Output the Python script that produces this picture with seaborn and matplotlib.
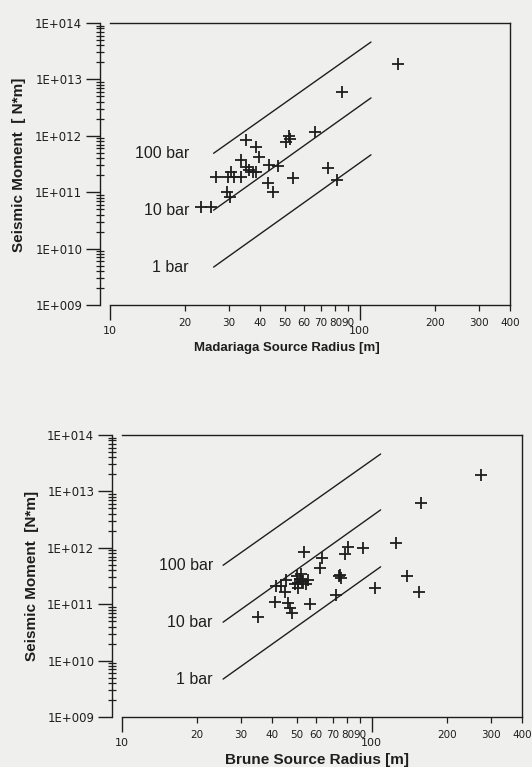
import numpy as np
import pandas as pd
import seaborn as sns
import matplotlib
matplotlib.use("Agg")
import matplotlib.pyplot as plt
from matplotlib.ticker import FixedLocator, FuncFormatter, LogLocator, NullFormatter

# values
madariaga_radius = [142, 84.6, 66.1, 52, 50.8, 52.5, 35.0, 38.5, 39.6, 33.4, 43.5, 47.0,
                    35.0, 36.1, 37.3, 38.5, 31.4, 26.5, 29.7, 33.4, 30.5, 54.1, 74.8,
                    80.8, 42.8, 44.9, 29.5, 30.3, 23.1, 25.3]
madariaga_moment = [1.87e13, 6.05e12, 1.18e12, 1.0e12, 7.9e11, 8.8e11, 8.4e11, 6.4e11, 4.2e11,
                    3.7e11, 3.0e11, 2.95e11, 2.83e11, 2.48e11, 2.31e11, 2.28e11, 1.88e11, 1.84e11,
                    1.85e11, 1.84e11, 2.3e11, 1.76e11, 2.65e11, 1.64e11, 1.44e11, 1.02e11,
                    1.02e11, 8.3e10, 5.5e10, 5.5e10]

brune_radius = [273, 158, 125.6, 92.3, 80.4, 78, 53.5, 63.5, 62.3, 74.5, 75.7, 74, 72.2,
                102.8, 138, 154.6, 56.5, 52.3, 50, 52.4, 54.8, 49.3, 50.7, 45.5, 43.5,
                41.5, 44.9, 41, 46.1, 47, 47.8, 35.1, 51.5, 53, 55.5, 50.5]
brune_moment = [1.95e13, 6.3e12, 1.23e12, 9.8e11, 1.05e12, 7.9e11, 8.5e11, 6.5e11, 4.3e11,
                3.3e11, 2.9e11, 3.1e11, 1.46e11, 1.9e11, 3.1e11, 1.66e11, 1.0e11, 3.5e11,
                3.1e11, 2.5e11, 2.3e11, 2.3e11, 1.9e11, 2.7e11, 2.1e11, 2.1e11, 1.66e11,
                1.1e11, 1.04e11, 8.5e10, 6.9e10, 6.0e10, 2.8e11, 2.6e11, 2.7e11, 2.4e11]

# constant stress drop lines (start / end moment)
stress_labels = ["100 bar", "10 bar", "1 bar"]
stress_start_moment = [4.9e11, 4.8e10, 4.7e9]
stress_end_moment = [4.6e13, 4.7e12, 4.6e11]
madariaga_line_radius = [26, 111]
brune_line_radius = [25.4, 108.6]

sns.set_theme(style="ticks")
plt.rcParams["font.family"] = ["Liberation Sans", "DejaVu Sans"]
ink = "#1e1e1e"
paper = "#efefed"

W, H = 532, 767
fig = plt.figure(figsize=(W / 100, H / 100), dpi=100, facecolor=paper)


def panel(rect, radius, moment, line_radius, label_x, ylabel, xlabel, ylabel_xy, xlabel_xy,
          xlabel_size):
    ax = fig.add_axes(rect)
    ax.set_facecolor(paper)

    lines = pd.DataFrame({
        "radius": [r for _ in stress_labels for r in line_radius],
        "moment": [m for pair in zip(stress_start_moment, stress_end_moment) for m in pair],
        "stress": [s for s in stress_labels for _ in line_radius],
    })
    sns.lineplot(data=lines, x="radius", y="moment", hue="stress", palette=[ink] * 3,
                 estimator=None, sort=False, legend=False, linewidth=1.0, ax=ax)

    pts = pd.DataFrame({"radius": radius, "moment": moment})
    sns.scatterplot(data=pts, x="radius", y="moment", marker="+", color=ink, s=80,
                    linewidth=1.3, ax=ax, zorder=3)

    for lab, m in zip(stress_labels, stress_start_moment):
        ax.text(label_x, m, lab, ha="right", va="center", fontsize=11.5, color=ink)

    ax.set_xscale("log")
    ax.set_yscale("log")
    ax.set_xlim(10, 400)
    ax.set_ylim(1e9, 1e14)
    ax.set_xlabel("")
    ax.set_ylabel("")

    for sp in ax.spines.values():
        sp.set_color(ink)
        sp.set_linewidth(1.0)
    ax.spines["left"].set_position(("outward", 7))

    # y axis: decades with many minor ticks
    ax.yaxis.set_major_locator(LogLocator(base=10, numticks=10))
    ax.yaxis.set_minor_locator(LogLocator(base=10, subs=np.arange(2, 10), numticks=20))
    ax.yaxis.set_major_formatter(FuncFormatter(lambda v, _: f"1E+{int(round(np.log10(v))):03d}"))
    ax.yaxis.set_minor_formatter(NullFormatter())
    ax.tick_params(axis="y", which="major", direction="out", length=10, width=1.0,
                   colors=ink, labelsize=8.5, pad=3)
    ax.tick_params(axis="y", which="minor", direction="inout", length=6, width=0.9, colors=ink)

    # x axis: 10 and 100 as majors, labelled minors in between
    ax.xaxis.set_major_locator(FixedLocator([10, 100]))
    ax.xaxis.set_minor_locator(FixedLocator([20, 30, 40, 50, 60, 70, 80, 90, 200, 300, 400]))
    ax.xaxis.set_major_formatter(FuncFormatter(lambda v, _: f"{v:g}"))
    ax.xaxis.set_minor_formatter(FuncFormatter(lambda v, _: f"{v:g}"))
    ax.tick_params(axis="x", which="major", direction="out", length=11, width=1.0,
                   colors=ink, labelsize=8, pad=4)
    ax.tick_params(axis="x", which="minor", direction="out", length=4, width=0.9,
                   colors=ink, labelsize=7.5, pad=5)
    for t in ax.get_xticklabels() + ax.get_yticklabels() + ax.get_xminorticklabels():
        t.set_family(["DejaVu Sans"])

    fig.text(ylabel_xy[0] / W, 1 - ylabel_xy[1] / H, ylabel, rotation=90, ha="center",
             va="center", fontsize=11, fontweight="bold", color=ink)
    fig.text(xlabel_xy[0] / W, 1 - xlabel_xy[1] / H, xlabel, ha="center",
             va="center", fontsize=xlabel_size, fontweight="bold", color=ink)
    return ax


panel([110 / W, 1 - 305 / H, 400 / W, 282 / H], madariaga_radius, madariaga_moment,
      madariaga_line_radius, 20.7, "Seismic Moment  [ N*m]", "Madariaga Source Radius [m]",
      (19, 165), (287, 348), 9.5)
panel([122 / W, 1 - 717 / H, 400 / W, 282 / H], brune_radius, brune_moment,
      brune_line_radius, 23.1, "Seismic Moment  [N*m]", "Brune Source Radius [m]",
      (32, 576), (317, 760), 11)

fig.savefig("out.png", dpi=100, facecolor=paper)
